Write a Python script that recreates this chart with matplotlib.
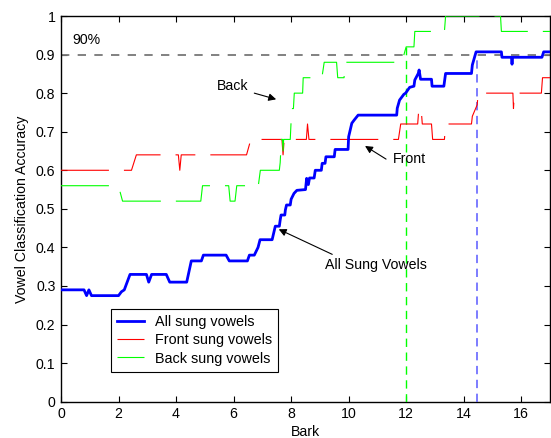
import matplotlib
matplotlib.use("Agg")
import matplotlib.pyplot as plt

plt.rcParams['font.family'] = ['Liberation Sans', 'DejaVu Sans']
plt.rcParams['lines.scale_dashes'] = False

# breakpoints (Bark, accuracy)
all_x = [0.0, 0.8, 0.89, 0.97, 1.06, 2.0, 2.1, 2.2, 2.4, 2.97, 3.05, 3.15, 3.66, 3.78,
         4.37, 4.53, 4.88, 4.95, 5.74, 5.85, 6.48, 6.55, 6.72, 6.85, 6.92, 7.34, 7.45,
         7.59, 7.62, 7.65, 7.78, 7.8, 7.84, 7.97, 8.0, 8.1, 8.2, 8.5, 8.54, 8.6, 8.64,
         8.8, 8.84, 9.05, 9.08, 9.18, 9.21, 9.5, 9.53, 9.98, 10.0, 10.11, 10.19, 10.33,
         11.67, 11.69, 11.77, 11.92, 11.98, 12.12, 12.27, 12.3, 12.42, 12.45, 12.5,
         12.88, 12.9, 13.31, 13.37, 14.27, 14.3, 14.43, 15.31, 15.33, 15.66, 15.68,
         15.7, 16.72, 16.78, 17.0]
all_y = [0.29, 0.29, 0.275, 0.29, 0.275, 0.275, 0.285, 0.29, 0.33, 0.33, 0.31, 0.33, 0.33, 0.31,
         0.31, 0.365, 0.365, 0.38, 0.38, 0.365, 0.365, 0.38, 0.38, 0.40, 0.42, 0.42, 0.455,
         0.455, 0.471, 0.484, 0.484, 0.497, 0.51, 0.51, 0.525, 0.54, 0.548, 0.55, 0.579, 0.563, 0.58,
         0.58, 0.6, 0.6, 0.618, 0.618, 0.635, 0.635, 0.654, 0.654, 0.687, 0.722, 0.73, 0.743,
         0.743, 0.761, 0.782, 0.797, 0.8, 0.815, 0.818, 0.834, 0.851, 0.86, 0.836,
         0.836, 0.818, 0.818, 0.851, 0.851, 0.873, 0.907, 0.907, 0.893, 0.893, 0.875,
         0.893, 0.893, 0.907, 0.907]

front_x = [0.0, 2.45, 2.62, 4.08, 4.13, 4.18, 6.45, 6.6, 7.68, 7.72, 7.76, 8.53, 8.57, 8.62,
           11.73, 11.81, 12.4, 12.44, 12.52, 12.56, 12.88, 12.92, 13.33, 13.37, 14.27, 14.3,
           14.47, 14.5, 15.71, 15.73, 15.76, 16.7, 16.74, 17.0]
front_y = [0.60, 0.60, 0.64, 0.64, 0.60, 0.64, 0.64, 0.68, 0.68, 0.64, 0.68, 0.68, 0.72, 0.68,
           0.68, 0.72, 0.72, 0.76, 0.76, 0.72, 0.72, 0.68, 0.68, 0.72, 0.72, 0.74,
           0.77, 0.80, 0.80, 0.76, 0.80, 0.80, 0.84, 0.84]

back_x = [0.0, 1.95, 2.05, 2.14, 4.86, 4.92, 5.83, 5.88, 6.05, 6.11, 6.86, 6.93, 7.59, 7.62,
          7.66, 7.70, 7.72, 7.74, 7.97, 8.02, 8.08, 8.11, 8.4, 8.42, 9.07, 9.15, 9.58, 9.62,
          9.84, 9.88, 11.85, 11.96, 12.0, 12.27, 12.3, 13.33, 13.37, 15.28, 15.31, 17.0]
back_y = [0.56, 0.56, 0.545, 0.52, 0.52, 0.56, 0.56, 0.52, 0.52, 0.56, 0.56, 0.60, 0.60, 0.62,
          0.68, 0.68, 0.65, 0.68, 0.68, 0.76, 0.76, 0.80, 0.80, 0.84, 0.84, 0.88, 0.88, 0.84,
          0.84, 0.88, 0.88, 0.91, 0.92, 0.92, 0.96, 0.96, 1.0, 1.0, 0.96, 0.96]

legend_labels = ['All sung vowels', 'Front sung vowels', 'Back sung vowels']
threshold = 0.9
back_cross = 12.0
all_cross = 14.45

fig = plt.figure(figsize=(5.51, 4.38), dpi=100)
ax = fig.add_axes([61 / 551, 36.3 / 438, 489 / 551, 385.7 / 438])

fs = 10.2
dash = (0, (34.5, 10.8))

ax.plot(all_x, all_y, color='#0000ff', lw=2.0, label=legend_labels[0], zorder=5)
ax.plot(front_x, front_y, color='#ff0000', lw=0.8, linestyle=dash, label=legend_labels[1], zorder=4)
ax.plot(back_x, back_y, color='#00ff00', lw=0.8, linestyle=dash, label=legend_labels[2], zorder=4)

ax.plot([0, 17], [threshold, threshold], color='#777777', lw=1.3, linestyle=(0, (6, 6)), zorder=2)
ax.plot([back_cross, back_cross], [0, 0.92], color='#00ff00', lw=1.0, linestyle=(0, (6, 4)), zorder=3)
ax.plot([all_cross, all_cross], [0, threshold], color='#6666ff', lw=1.2, linestyle=(0, (6, 4)), zorder=3)

ax.text(0.38, 0.938, '90%', fontsize=fs, ha='left', va='center')
ax.text(5.96, 0.818, 'Back', fontsize=fs, ha='center', va='center')
ax.text(12.1, 0.629, 'Front', fontsize=fs, ha='center', va='center')
ax.text(10.94, 0.354, 'All Sung Vowels', fontsize=fs, ha='center', va='center')

arrow = dict(arrowstyle='-|>', color='k', lw=0.8, mutation_scale=11, shrinkA=0, shrinkB=0)
ax.annotate('', xy=(7.48, 0.784), xytext=(6.72, 0.80), arrowprops=arrow)
ax.annotate('', xy=(10.57, 0.663), xytext=(11.3, 0.629), arrowprops=arrow)
ax.annotate('', xy=(7.57, 0.447), xytext=(9.43, 0.382), arrowprops=arrow)

ax.set_xlim(0, 17)
ax.set_ylim(0, 1)
ax.set_xticks(range(0, 17, 2))
ax.set_yticks([i / 10 for i in range(11)])
ax.set_yticklabels(['0', '0.1', '0.2', '0.3', '0.4', '0.5', '0.6', '0.7', '0.8', '0.9', '1'])
ax.tick_params(direction='in', top=True, right=True, length=4, width=0.8, labelsize=fs, pad=4)
for s in ax.spines.values():
    s.set_linewidth(1.0)

ax.set_xlabel('Bark', fontsize=fs, labelpad=2.5)
ax.set_ylabel('Vowel Classification Accuracy', fontsize=fs, labelpad=5)

leg = ax.legend(loc='lower left', bbox_to_anchor=(0.102, 0.078), borderaxespad=0,
                fontsize=10.4, fancybox=False, framealpha=1, edgecolor='k',
                handlelength=1.9, handletextpad=0.75, labelspacing=0.3, borderpad=0.42)
leg.get_frame().set_linewidth(0.8)

fig.savefig('out.png', dpi=100)
